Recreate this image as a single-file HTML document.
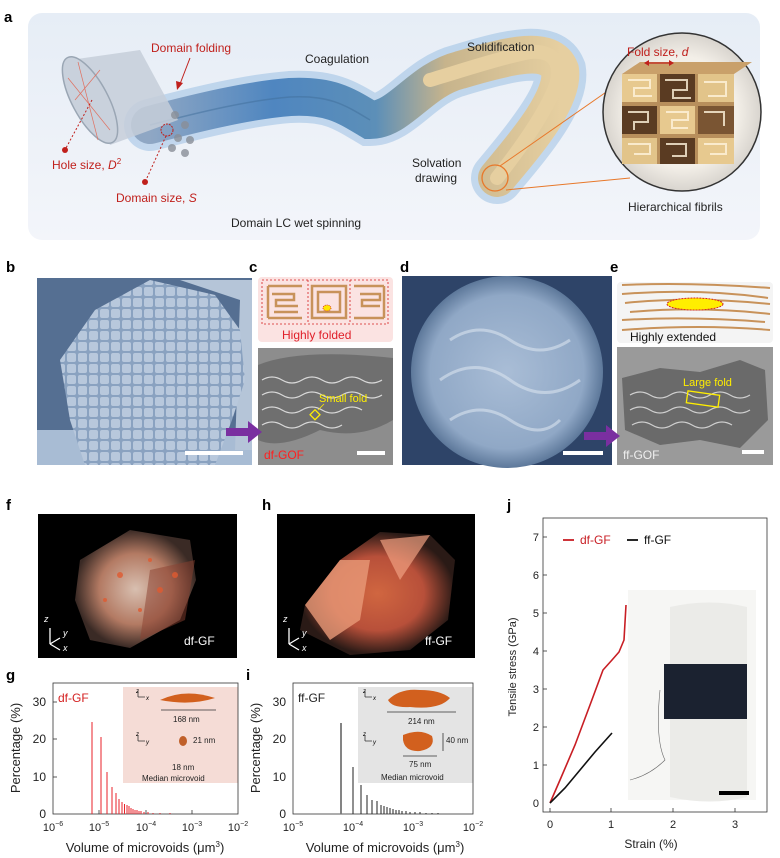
<!DOCTYPE html>
<html><head><meta charset="utf-8"><style>
html,body{margin:0;padding:0;background:#fff}
svg{display:block;font-family:"Liberation Sans",Arial,sans-serif}
</style></head><body>
<svg width="780" height="858" viewBox="0 0 780 858" xmlns="http://www.w3.org/2000/svg">
<defs>
<linearGradient id="bgA" x1="0" y1="0" x2="0" y2="1"><stop offset="0" stop-color="#e6edf6"/><stop offset="1" stop-color="#f3f5fa"/></linearGradient>
<linearGradient id="fib" x1="0" y1="0" x2="1" y2="0"><stop offset="0" stop-color="#8fa7c4"/><stop offset="0.3" stop-color="#4f86c0"/><stop offset="0.55" stop-color="#5c8fb8"/><stop offset="0.72" stop-color="#c7b48c"/><stop offset="1" stop-color="#e6cfa0"/></linearGradient>
<radialGradient id="mag" cx="0.5" cy="0.5" r="0.5"><stop offset="0.7" stop-color="#f3efe8"/><stop offset="1" stop-color="#d8d4ce"/></radialGradient>
<radialGradient id="semd" cx="0.5" cy="0.5" r="0.5"><stop offset="0" stop-color="#a9bdd6"/><stop offset="0.8" stop-color="#90a8c6"/><stop offset="1" stop-color="#5d789a"/></radialGradient>
<radialGradient id="vf" cx="0.5" cy="0.5" r="0.5"><stop offset="0" stop-color="#d8bfb0"/><stop offset="0.6" stop-color="#b37a63"/><stop offset="1" stop-color="#3a2a25"/></radialGradient>
<radialGradient id="vh" cx="0.5" cy="0.5" r="0.5"><stop offset="0" stop-color="#d06640"/><stop offset="0.6" stop-color="#b8503a"/><stop offset="1" stop-color="#2a1a16"/></radialGradient>
<pattern id="grid" width="11" height="11" patternUnits="userSpaceOnUse"><rect width="11" height="11" fill="#8aa2c0"/><rect x="1" y="1" width="9" height="9" rx="2" fill="#b8c8dc"/></pattern>
</defs>

<!-- panel a -->
<text x="4" y="22" font-size="15" font-weight="bold">a</text>
<rect x="28" y="13" width="732" height="227" rx="14" fill="url(#bgA)"/>
<path d="M150,125 C200,112 250,100 290,97 C330,95 345,105 370,120 C400,120 420,80 460,70 C510,55 550,45 560,70 C565,100 520,150 497,178" fill="none" stroke="#7fb0dd" stroke-width="52" stroke-linecap="round" opacity="0.4"/>
<path d="M150,125 C200,112 250,100 290,97 C330,95 345,105 370,120 C400,120 420,80 460,70 C510,55 550,45 560,70 C565,100 520,150 497,178" fill="none" stroke="url(#fib)" stroke-width="38" stroke-linecap="round"/>
<path d="M430,80 C470,68 500,58 530,52 C555,50 562,65 556,85 C545,115 515,155 497,178" fill="none" stroke="#e6cfa0" stroke-width="14" stroke-linecap="round"/>
<path d="M150,125 C200,112 250,100 290,97 C330,95 345,105 370,120" fill="none" stroke="#3f6d9a" stroke-width="1.5" opacity="0.5"/>
<!-- nozzle -->
<path d="M70,60 L140,50 L178,120 L110,145 Z" fill="#c6ced9" opacity="0.85"/>
<ellipse cx="90" cy="100" rx="18" ry="48" fill="#c9d1dc" stroke="#9aa6b4" stroke-width="1.5" transform="rotate(-28 90 100)"/>
<path d="M78,62 L98,140 M68,78 L110,130 M75,100 L100,70" stroke="#e07060" stroke-width="0.7" fill="none"/>
<circle cx="167" cy="130" r="6" fill="none" stroke="#c0201c" stroke-width="1" stroke-dasharray="2 1"/>
<g fill="#8a8f98" opacity="0.8"><circle cx="175" cy="115" r="4"/><circle cx="185" cy="125" r="4"/><circle cx="178" cy="138" r="4"/><circle cx="190" cy="140" r="4"/><circle cx="172" cy="148" r="4"/><circle cx="185" cy="153" r="4"/></g>
<text x="151" y="52" font-size="12" fill="#c0201c">Domain folding</text>
<line x1="190" y1="58" x2="180" y2="84" stroke="#c0201c" stroke-width="1"/><path d="M177,90 L176,81 L183,83 Z" fill="#c0201c"/>
<line x1="92" y1="100" x2="66" y2="148" stroke="#c0201c" stroke-width="1" stroke-dasharray="2 2"/><circle cx="65" cy="150" r="3" fill="#c0201c"/>
<text x="52" y="169" font-size="12" fill="#c0201c">Hole size, <tspan font-style="italic">D</tspan><tspan font-size="8" dy="-5">2</tspan></text>
<line x1="166" y1="136" x2="146" y2="180" stroke="#c0201c" stroke-width="1" stroke-dasharray="2 2"/><circle cx="145" cy="182" r="3" fill="#c0201c"/>
<text x="116" y="202" font-size="12" fill="#c0201c">Domain size, <tspan font-style="italic">S</tspan></text>
<text x="305" y="63" font-size="12" fill="#222">Coagulation</text>
<text x="467" y="51" font-size="12" fill="#222">Solidification</text>
<text x="412" y="167" font-size="12" fill="#222">Solvation</text>
<text x="415" y="182" font-size="12" fill="#222">drawing</text>
<text x="231" y="227" font-size="12" fill="#222">Domain LC wet spinning</text>
<circle cx="495" cy="178" r="13" fill="none" stroke="#e8782a" stroke-width="1.3"/>
<line x1="500" y1="166" x2="612" y2="88" stroke="#e8782a" stroke-width="1"/>
<line x1="506" y1="190" x2="630" y2="178" stroke="#e8782a" stroke-width="1"/>
<circle cx="682" cy="112" r="79" fill="url(#mag)" stroke="#333" stroke-width="1.5"/>
<g>
<rect x="622" y="74" width="112" height="90" fill="#b88f5c"/>
<rect x="622" y="74" width="35" height="28" fill="#e7c98f"/><rect x="660" y="74" width="35" height="28" fill="#5a3b22"/><rect x="698" y="74" width="36" height="28" fill="#e2c48a"/>
<rect x="622" y="106" width="35" height="28" fill="#5a3b22"/><rect x="660" y="106" width="35" height="28" fill="#e7c98f"/><rect x="698" y="106" width="36" height="28" fill="#7a5533"/>
<rect x="622" y="138" width="35" height="26" fill="#e2c48a"/><rect x="660" y="138" width="35" height="26" fill="#5a3b22"/><rect x="698" y="138" width="36" height="26" fill="#e7c98f"/>
<path d="M628,80h22v8h-16v8h18M665,80h22v10h-14v8h18M704,82h22v14h-18M628,112h20v10h-14v8M666,112h22v8h-16v8h16M704,112h20v14M628,144h22v10h-16M666,144h20v12h-14M704,144h22v10h-16" fill="none" stroke="#fff4dc" stroke-width="2" opacity="0.8"/>
<path d="M622,74 L640,62 L752,62 L734,74 Z" fill="#c9a06a"/>
</g>
<text x="627" y="56" font-size="12" fill="#c0201c">Fold size, <tspan font-style="italic">d</tspan></text>
<line x1="646" y1="63" x2="672" y2="63" stroke="#c0201c" stroke-width="1.2"/>
<path d="M644,63l5,-3v6zM674,63l-5,-3v6z" fill="#c0201c"/>
<text x="628" y="211" font-size="12" fill="#222">Hierarchical fibrils</text>

<!-- b -->
<text x="6" y="272" font-size="15" font-weight="bold">b</text>
<rect x="37" y="278" width="215" height="187" fill="#556f92"/>
<rect x="37" y="430" width="215" height="35" fill="#a8bcd4"/>
<path d="M180,280 L252,280 L252,450 L235,450 L240,300 Z" fill="#b5c5d8"/>
<path d="M95,310 L150,280 L215,295 L240,330 L245,380 L232,420 L215,465 L85,465 L70,420 L60,360 Z" fill="url(#grid)"/>
<rect x="185" y="451" width="58" height="4" fill="#fff"/>
<!-- c -->
<text x="249" y="272" font-size="15" font-weight="bold">c</text>
<rect x="258" y="277" width="135" height="65" rx="4" fill="#fbe3e2"/>
<rect x="262" y="280" width="126" height="44" fill="none" stroke="#d42020" stroke-dasharray="2 2" stroke-width="0.8"/>
<line x1="308" y1="280" x2="308" y2="324" stroke="#d42020" stroke-dasharray="2 2" stroke-width="0.8"/>
<line x1="350" y1="280" x2="350" y2="324" stroke="#d42020" stroke-dasharray="2 2" stroke-width="0.8"/>
<path d="M268,286h34M268,318h34M268,286v32M272,294h22v6h-18v6h22M274,312h24M312,286h34v32h-34zM318,292h22v20h-22zM354,286h30M354,318h30M384,286v32M360,294h20v6h-18v6h18" fill="none" stroke="#c8925a" stroke-width="2.5"/>
<ellipse cx="327" cy="308" rx="4" ry="3" fill="#ffe600" stroke="#d42020" stroke-width="0.8" stroke-dasharray="1 1"/>
<text x="282" y="339" font-size="12" fill="#e0202a">Highly folded</text>
<rect x="258" y="348" width="135" height="117" fill="#8d8d8d"/>
<path d="M258,365 Q300,348 393,358 L393,420 Q360,440 320,430 Q280,450 258,440 Z" fill="#6f6f6f"/>
<path d="M262,380 q10,-6 20,0 t20,0 t20,0 t20,0 t20,0 t20,0 M262,395 q10,-6 20,0 t20,0 t20,0 t20,0 t20,0 t20,0 M262,410 q10,-6 20,0 t20,0 t20,0 t20,0 t20,0 M262,425 q10,-6 20,0 t20,0 t20,0 t20,0" fill="none" stroke="#d8d8d8" stroke-width="1.2"/>
<rect x="312" y="411" width="7" height="7" fill="none" stroke="#ffee00" stroke-width="1.3" transform="rotate(45 315 414)"/>
<line x1="318" y1="410" x2="324" y2="404" stroke="#ffee00" stroke-width="0.8"/>
<text x="319" y="402" font-size="11" fill="#ffee00">Small fold</text>
<text x="264" y="459" font-size="12" fill="#ff2020">df-GOF</text>
<rect x="357" y="451" width="28" height="4" fill="#fff"/>
<path d="M226,428 h22 v-7 l14,11 l-14,11 v-7 h-22 z" fill="#7a2fa0"/>
<!-- d -->
<text x="400" y="272" font-size="15" font-weight="bold">d</text>
<rect x="402" y="276" width="210" height="189" fill="#2e4468"/>
<circle cx="507" cy="372" r="96" fill="url(#semd)"/>
<path d="M450,340 q30,-20 60,0 t60,0 M440,380 q35,-25 70,0 t70,0 M450,420 q30,-20 60,0 t50,0" fill="none" stroke="#d8e2ee" stroke-width="3" opacity="0.6"/>
<rect x="563" y="451" width="40" height="4" fill="#fff"/>
<!-- e -->
<text x="610" y="272" font-size="15" font-weight="bold">e</text>
<rect x="617" y="282" width="156" height="61" rx="4" fill="#f4f4f4"/>
<path d="M622,285 Q690,282 770,288 M622,294 Q700,288 768,298 M625,303 Q690,296 770,304 M630,312 Q700,306 770,314 M622,320 Q690,316 765,322 M622,330 Q700,324 770,330" fill="none" stroke="#c8925a" stroke-width="2"/>
<ellipse cx="695" cy="304" rx="28" ry="6" fill="#ffee00" stroke="#d42020" stroke-dasharray="2 1" stroke-width="1"/>
<text x="630" y="341" font-size="12" fill="#111">Highly extended</text>
<rect x="617" y="347" width="156" height="118" fill="#9a9a9a"/>
<path d="M622,378 L660,368 L700,372 L740,360 L765,370 L768,420 L740,448 L700,440 L660,445 L625,430 Z" fill="#6a6a6a"/>
<path d="M630,395 q10,-6 20,0 t20,0 t20,0 t20,0 t20,0 t20,0 M630,410 q10,-6 20,0 t20,0 t20,0 t20,0 t20,0 t20,0 M632,425 q10,-6 20,0 t20,0 t20,0 t20,0 t20,0" fill="none" stroke="#cfcfcf" stroke-width="1.2"/>
<rect x="687" y="393" width="32" height="12" fill="none" stroke="#ffee00" stroke-width="1.3" transform="rotate(8 703 399)"/>
<text x="683" y="386" font-size="11" fill="#ffee00">Large fold</text>
<text x="623" y="459" font-size="12" fill="#eee">ff-GOF</text>
<rect x="742" y="450" width="22" height="4" fill="#fff"/>
<path d="M584,432 h22 v-7 l14,11 l-14,11 v-7 h-22 z" fill="#7a2fa0"/>

<!-- f -->
<text x="6" y="510" font-size="15" font-weight="bold">f</text>
<rect x="38" y="514" width="199" height="144" fill="#000"/>
<path d="M80,560 L130,530 L190,540 L196,580 L180,620 L130,648 L90,640 L75,600 Z" fill="url(#vf)"/>
<path d="M150,570 L195,560 L185,620 L140,640 Z" fill="#8a4030" opacity="0.5"/>
<g fill="#e05a30" opacity="0.8"><circle cx="120" cy="575" r="3"/><circle cx="160" cy="590" r="3"/><circle cx="140" cy="610" r="2"/><circle cx="175" cy="575" r="3"/><circle cx="105" cy="600" r="2"/><circle cx="150" cy="560" r="2"/></g>
<path d="M50,644 v-16 M50,644 l10,-6 M50,644 l10,6" stroke="#fff" stroke-width="1.3" fill="none"/>
<text x="44" y="622" font-size="9" fill="#fff" font-style="italic">z</text><text x="63" y="636" font-size="9" fill="#fff" font-style="italic">y</text><text x="63" y="651" font-size="9" fill="#fff" font-style="italic">x</text>
<text x="184" y="645" font-size="12" fill="#fff">df-GF</text>
<!-- h -->
<text x="262" y="510" font-size="15" font-weight="bold">h</text>
<rect x="277" y="514" width="198" height="144" fill="#000"/>
<path d="M305,605 L340,560 L380,532 L430,535 L455,560 L448,620 L410,650 L350,655 L300,630 Z" fill="url(#vh)"/>
<path d="M305,605 L340,560 L370,560 L360,620 L330,640 Z" fill="#e89a78" opacity="0.8"/>
<path d="M380,540 L430,535 L400,580 Z" fill="#f0a080" opacity="0.7"/>
<path d="M289,644 v-16 M289,644 l10,-6 M289,644 l10,6" stroke="#fff" stroke-width="1.3" fill="none"/>
<text x="283" y="622" font-size="9" fill="#fff" font-style="italic">z</text><text x="302" y="636" font-size="9" fill="#fff" font-style="italic">y</text><text x="302" y="651" font-size="9" fill="#fff" font-style="italic">x</text>
<text x="425" y="645" font-size="12" fill="#fff">ff-GF</text>

<!-- g -->
<text x="6" y="680" font-size="15" font-weight="bold">g</text>
<rect x="123" y="687" width="115" height="96" fill="#f5dcd6"/>
<rect x="53" y="683" width="185" height="131" fill="none" stroke="#333" stroke-width="0.8"/>
<g font-size="12" fill="#222" text-anchor="end"><text x="46" y="818">0</text><text x="46" y="781">10</text><text x="46" y="743">20</text><text x="46" y="706">30</text></g>
<g stroke="#333" stroke-width="0.8"><line x1="53" y1="777" x2="57" y2="777"/><line x1="53" y1="739" x2="57" y2="739"/><line x1="53" y1="702" x2="57" y2="702"/><line x1="99" y1="814" x2="99" y2="810"/><line x1="146" y1="814" x2="146" y2="810"/><line x1="192" y1="814" x2="192" y2="810"/></g>
<text x="20" y="748" font-size="13" fill="#222" text-anchor="middle" transform="rotate(-90 20 748)">Percentage (%)</text>
<g font-size="11" fill="#222" text-anchor="middle"><text x="53" y="831">10<tspan font-size="7" dy="-5">−6</tspan></text><text x="99" y="831">10<tspan font-size="7" dy="-5">−5</tspan></text><text x="146" y="831">10<tspan font-size="7" dy="-5">−4</tspan></text><text x="192" y="831">10<tspan font-size="7" dy="-5">−3</tspan></text><text x="238" y="831">10<tspan font-size="7" dy="-5">−2</tspan></text></g>
<text x="145" y="852" font-size="13" fill="#222" text-anchor="middle">Volume of microvoids (μm<tspan font-size="8" dy="-5">3</tspan><tspan dy="5">)</tspan></text>
<text x="58" y="702" font-size="12" fill="#d42020">df-GF</text>
<g stroke="#e8222a" stroke-width="1">
<line x1="92" y1="814" x2="92" y2="722"/><line x1="101" y1="814" x2="101" y2="737"/><line x1="107" y1="814" x2="107" y2="772"/><line x1="112" y1="814" x2="112" y2="787"/><line x1="116" y1="814" x2="116" y2="793"/><line x1="119" y1="814" x2="119" y2="799"/><line x1="122" y1="814" x2="122" y2="802"/><line x1="124.5" y1="814" x2="124.5" y2="804"/><line x1="127" y1="814" x2="127" y2="805"/><line x1="129" y1="814" x2="129" y2="806"/><line x1="131" y1="814" x2="131" y2="808"/><line x1="133" y1="814" x2="133" y2="809"/><line x1="135" y1="814" x2="135" y2="810"/><line x1="137" y1="814" x2="137" y2="810"/><line x1="139" y1="814" x2="139" y2="811"/><line x1="141" y1="814" x2="141" y2="811"/><line x1="144" y1="814" x2="144" y2="812"/><line x1="148" y1="814" x2="148" y2="812"/><line x1="153" y1="814" x2="153" y2="813"/><line x1="160" y1="814" x2="160" y2="813"/><line x1="170" y1="814" x2="170" y2="813"/>
</g>
<path d="M138,697 v-6 M138,697 h7" stroke="#333" stroke-width="0.8" fill="none"/><text x="136" y="693" font-size="6" font-style="italic">z</text><text x="146" y="700" font-size="6" font-style="italic">x</text>
<path d="M160,700 Q185,688 215,698 Q190,706 160,700 Z" fill="#d2601e"/>
<line x1="161" y1="710" x2="216" y2="710" stroke="#333" stroke-width="0.8"/>
<text x="173" y="722" font-size="8" fill="#222">168 nm</text>
<path d="M138,741 v-6 M138,741 h7" stroke="#333" stroke-width="0.8" fill="none"/><text x="136" y="736" font-size="6" font-style="italic">z</text><text x="146" y="744" font-size="6" font-style="italic">y</text>
<ellipse cx="183" cy="741" rx="4" ry="5" fill="#c0602a"/>
<text x="193" y="743" font-size="8" fill="#222">21 nm</text><text x="172" y="770" font-size="8" fill="#222">18 nm</text>
<text x="142" y="781" font-size="8" fill="#222">Median microvoid</text>

<!-- i -->
<text x="246" y="680" font-size="15" font-weight="bold">i</text>
<rect x="358" y="687" width="115" height="96" fill="#e4e4e4"/>
<rect x="293" y="683" width="180" height="131" fill="none" stroke="#333" stroke-width="0.8"/>
<g font-size="12" fill="#222" text-anchor="end"><text x="286" y="818">0</text><text x="286" y="781">10</text><text x="286" y="743">20</text><text x="286" y="706">30</text></g>
<text x="260" y="748" font-size="13" fill="#222" text-anchor="middle" transform="rotate(-90 260 748)">Percentage (%)</text>
<g font-size="11" fill="#222" text-anchor="middle"><text x="293" y="831">10<tspan font-size="7" dy="-5">−5</tspan></text><text x="353" y="831">10<tspan font-size="7" dy="-5">−4</tspan></text><text x="413" y="831">10<tspan font-size="7" dy="-5">−3</tspan></text><text x="473" y="831">10<tspan font-size="7" dy="-5">−2</tspan></text></g>
<text x="385" y="852" font-size="13" fill="#222" text-anchor="middle">Volume of microvoids (μm<tspan font-size="8" dy="-5">3</tspan><tspan dy="5">)</tspan></text>
<text x="298" y="702" font-size="12" fill="#222">ff-GF</text>
<g stroke="#222" stroke-width="1">
<line x1="341" y1="814" x2="341" y2="723" stroke="#777" stroke-width="1.8"/><line x1="353" y1="814" x2="353" y2="767"/><line x1="361" y1="814" x2="361" y2="785"/><line x1="367" y1="814" x2="367" y2="795"/><line x1="372" y1="814" x2="372" y2="800"/><line x1="377" y1="814" x2="377" y2="801"/><line x1="381" y1="814" x2="381" y2="805"/><line x1="384" y1="814" x2="384" y2="806"/><line x1="387" y1="814" x2="387" y2="807"/><line x1="390" y1="814" x2="390" y2="808"/><line x1="393" y1="814" x2="393" y2="809"/><line x1="396" y1="814" x2="396" y2="810"/><line x1="399" y1="814" x2="399" y2="810"/><line x1="402" y1="814" x2="402" y2="811"/><line x1="406" y1="814" x2="406" y2="811"/><line x1="410" y1="814" x2="410" y2="812"/><line x1="415" y1="814" x2="415" y2="812"/><line x1="420" y1="814" x2="420" y2="812"/><line x1="426" y1="814" x2="426" y2="813"/><line x1="432" y1="814" x2="432" y2="813"/><line x1="438" y1="814" x2="438" y2="813"/>
</g>
<path d="M365,697 v-6 M365,697 h7" stroke="#333" stroke-width="0.8" fill="none"/><text x="363" y="693" font-size="6" font-style="italic">z</text><text x="373" y="700" font-size="6" font-style="italic">x</text>
<path d="M388,700 Q400,688 420,690 Q440,690 450,698 Q440,710 410,707 Q392,708 388,700 Z" fill="#d2601e"/>
<line x1="387" y1="712" x2="456" y2="712" stroke="#333" stroke-width="0.8"/>
<text x="408" y="724" font-size="8" fill="#222">214 nm</text>
<path d="M365,741 v-6 M365,741 h7" stroke="#333" stroke-width="0.8" fill="none"/><text x="363" y="736" font-size="6" font-style="italic">z</text><text x="373" y="744" font-size="6" font-style="italic">y</text>
<path d="M403,735 Q420,728 432,736 Q436,748 420,751 Q405,752 403,740 Z" fill="#d2601e"/>
<line x1="443" y1="733" x2="443" y2="751" stroke="#333" stroke-width="0.8"/>
<text x="446" y="743" font-size="8" fill="#222">40 nm</text>
<line x1="403" y1="756" x2="437" y2="756" stroke="#333" stroke-width="0.8"/>
<text x="409" y="767" font-size="8" fill="#222">75 nm</text>
<text x="381" y="780" font-size="8" fill="#222">Median microvoid</text>

<!-- j -->
<text x="507" y="510" font-size="15" font-weight="bold">j</text>
<rect x="543" y="518" width="224" height="294" fill="none" stroke="#333" stroke-width="0.8"/>
<rect x="628" y="590" width="128" height="210" fill="#f6f6f4"/>
<path d="M670,607 Q710,598 747,607 L747,797 Q710,806 670,797 Z" fill="#ebebe8"/>
<path d="M664,664 L747,664 L747,719 L664,719 Z" fill="#1b2230"/>
<path d="M660,690 Q655,740 665,760 Q650,775 630,780" fill="none" stroke="#666" stroke-width="0.6"/>
<rect x="719" y="791" width="30" height="4" fill="#000"/>
<g font-size="11" fill="#222" text-anchor="end"><text x="539" y="807">0</text><text x="539" y="769">1</text><text x="539" y="731">2</text><text x="539" y="693">3</text><text x="539" y="655">4</text><text x="539" y="617">5</text><text x="539" y="579">6</text><text x="539" y="541">7</text></g>
<g stroke="#333" stroke-width="0.8"><line x1="543" y1="765" x2="547" y2="765"/><line x1="543" y1="727" x2="547" y2="727"/><line x1="543" y1="689" x2="547" y2="689"/><line x1="543" y1="651" x2="547" y2="651"/><line x1="543" y1="613" x2="547" y2="613"/><line x1="543" y1="575" x2="547" y2="575"/><line x1="543" y1="537" x2="547" y2="537"/><line x1="550" y1="812" x2="550" y2="808"/><line x1="611" y1="812" x2="611" y2="808"/><line x1="673" y1="812" x2="673" y2="808"/><line x1="735" y1="812" x2="735" y2="808"/></g>
<g font-size="11" fill="#222" text-anchor="middle"><text x="550" y="828">0</text><text x="611" y="828">1</text><text x="673" y="828">2</text><text x="735" y="828">3</text></g>
<text x="651" y="848" font-size="12" fill="#222" text-anchor="middle">Strain (%)</text>
<text x="516" y="667" font-size="11" fill="#222" text-anchor="middle" transform="rotate(-90 516 667)">Tensile stress (GPa)</text>
<path d="M550,803 L560,780 L575,745 L590,705 L603,670 L612,660 L619,652 L624,640 L626,605" fill="none" stroke="#c81e24" stroke-width="1.6"/>
<path d="M550,803 L565,788 L580,770 L595,752 L612,733" fill="none" stroke="#111" stroke-width="1.6"/>
<line x1="563" y1="540" x2="574" y2="540" stroke="#c81e24" stroke-width="1.8"/><text x="580" y="544" font-size="12" fill="#c81e24">df-GF</text>
<line x1="627" y1="540" x2="638" y2="540" stroke="#111" stroke-width="1.8"/><text x="644" y="544" font-size="12" fill="#111">ff-GF</text>
</svg>
</body></html>
